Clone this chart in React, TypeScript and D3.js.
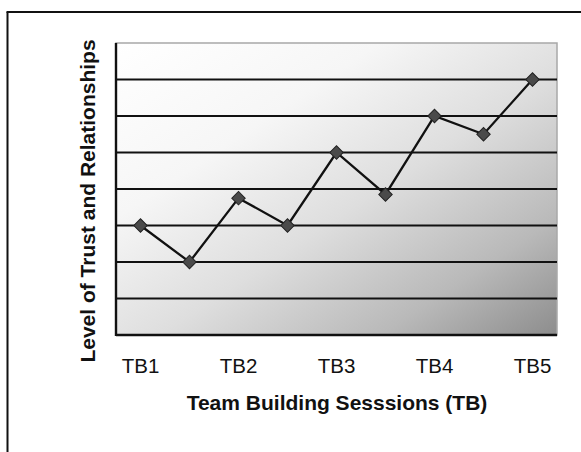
import React from "react";
import * as d3 from "d3";

const categories = ["TB1", "TB1b", "TB2", "TB2b", "TB3", "TB3b", "TB4", "TB4b", "TB5"];
const tickLabels = ["TB1", "", "TB2", "", "TB3", "", "TB4", "", "TB5"];
const values = [3, 2, 3.75, 3, 5, 3.85, 6, 5.5, 7];
const yTicks = [0, 1, 2, 3, 4, 5, 6, 7, 8];

const W = 581;
const H = 452;
const M = { left: 116, top: 43, right: 557, bottom: 335 };

export default function App() {
  const x = d3.scaleBand<string>().domain(categories).range([M.left, M.right]).padding(0);
  const y = d3.scaleLinear().domain([0, 8]).range([M.bottom, M.top]);
  const cx = (c: string) => (x(c) as number) + x.bandwidth() / 2;
  const line = d3
    .line<number>()
    .x((_, i) => cx(categories[i]))
    .y((d) => y(d));
  const marker = d3.symbol().type(d3.symbolSquare).size(90)() as string;
  const ff = "'Liberation Sans', Arial, sans-serif";

  return (
    <svg
      width={W}
      height={H}
      style={{ position: "absolute", left: 0, top: 0, background: "#fff" }}
    >
      <defs>
        <linearGradient id="bg" x1="0" y1="0" x2="1" y2="1">
          <stop offset="0" stopColor="#ffffff" />
          <stop offset="0.3" stopColor="#f6f6f6" />
          <stop offset="0.55" stopColor="#dedede" />
          <stop offset="0.8" stopColor="#b9b9b9" />
          <stop offset="1" stopColor="#8d8d8d" />
        </linearGradient>
      </defs>
      {/* outer frame */}
      <line x1={7.5} y1={12} x2={7.5} y2={H} stroke="#111" strokeWidth={2} />
      <line x1={6.5} y1={12} x2={W} y2={12} stroke="#111" strokeWidth={2} />

      {/* plot area */}
      <rect
        x={M.left}
        y={M.top}
        width={M.right - M.left}
        height={M.bottom - M.top}
        fill="url(#bg)"
        stroke="#a8a8a8"
        strokeWidth={1.5}
      />
      {yTicks.slice(1, -1).map((t) => (
        <line
          key={t}
          x1={M.left}
          x2={M.right}
          y1={y(t)}
          y2={y(t)}
          stroke="#111"
          strokeWidth={2.2}
        />
      ))}
      <line x1={M.left} x2={M.left} y1={M.top} y2={M.bottom + 1} stroke="#111" strokeWidth={2.4} />
      <line x1={M.left} x2={M.right} y1={M.bottom} y2={M.bottom} stroke="#111" strokeWidth={2.4} />

      <path d={line(values) as string} fill="none" stroke="#111" strokeWidth={2.3} />
      {values.map((v, i) => (
        <path
          key={i}
          d={marker}
          transform={`translate(${cx(categories[i])},${y(v)}) rotate(45)`}
          fill="#4a4a4a"
          stroke="#222"
          strokeWidth={1}
        />
      ))}

      {categories.map((c, i) => (
        <text
          key={c}
          x={cx(c)}
          y={373}
          textAnchor="middle"
          fontFamily={ff}
          fontSize={20.5}
          fill="#111"
        >
          {tickLabels[i]}
        </text>
      ))}
      <text
        x={337}
        y={410}
        textAnchor="middle"
        fontFamily={ff}
        fontSize={21}
        fontWeight="bold"
        fill="#111"
      >
        Team Building Sesssions (TB)
      </text>
      <text
        transform={`translate(95,201) rotate(-90)`}
        textAnchor="middle"
        fontFamily={ff}
        fontSize={21}
        fontWeight="bold"
        fill="#111"
      >
        Level of Trust and Relationships
      </text>
    </svg>
  );
}
